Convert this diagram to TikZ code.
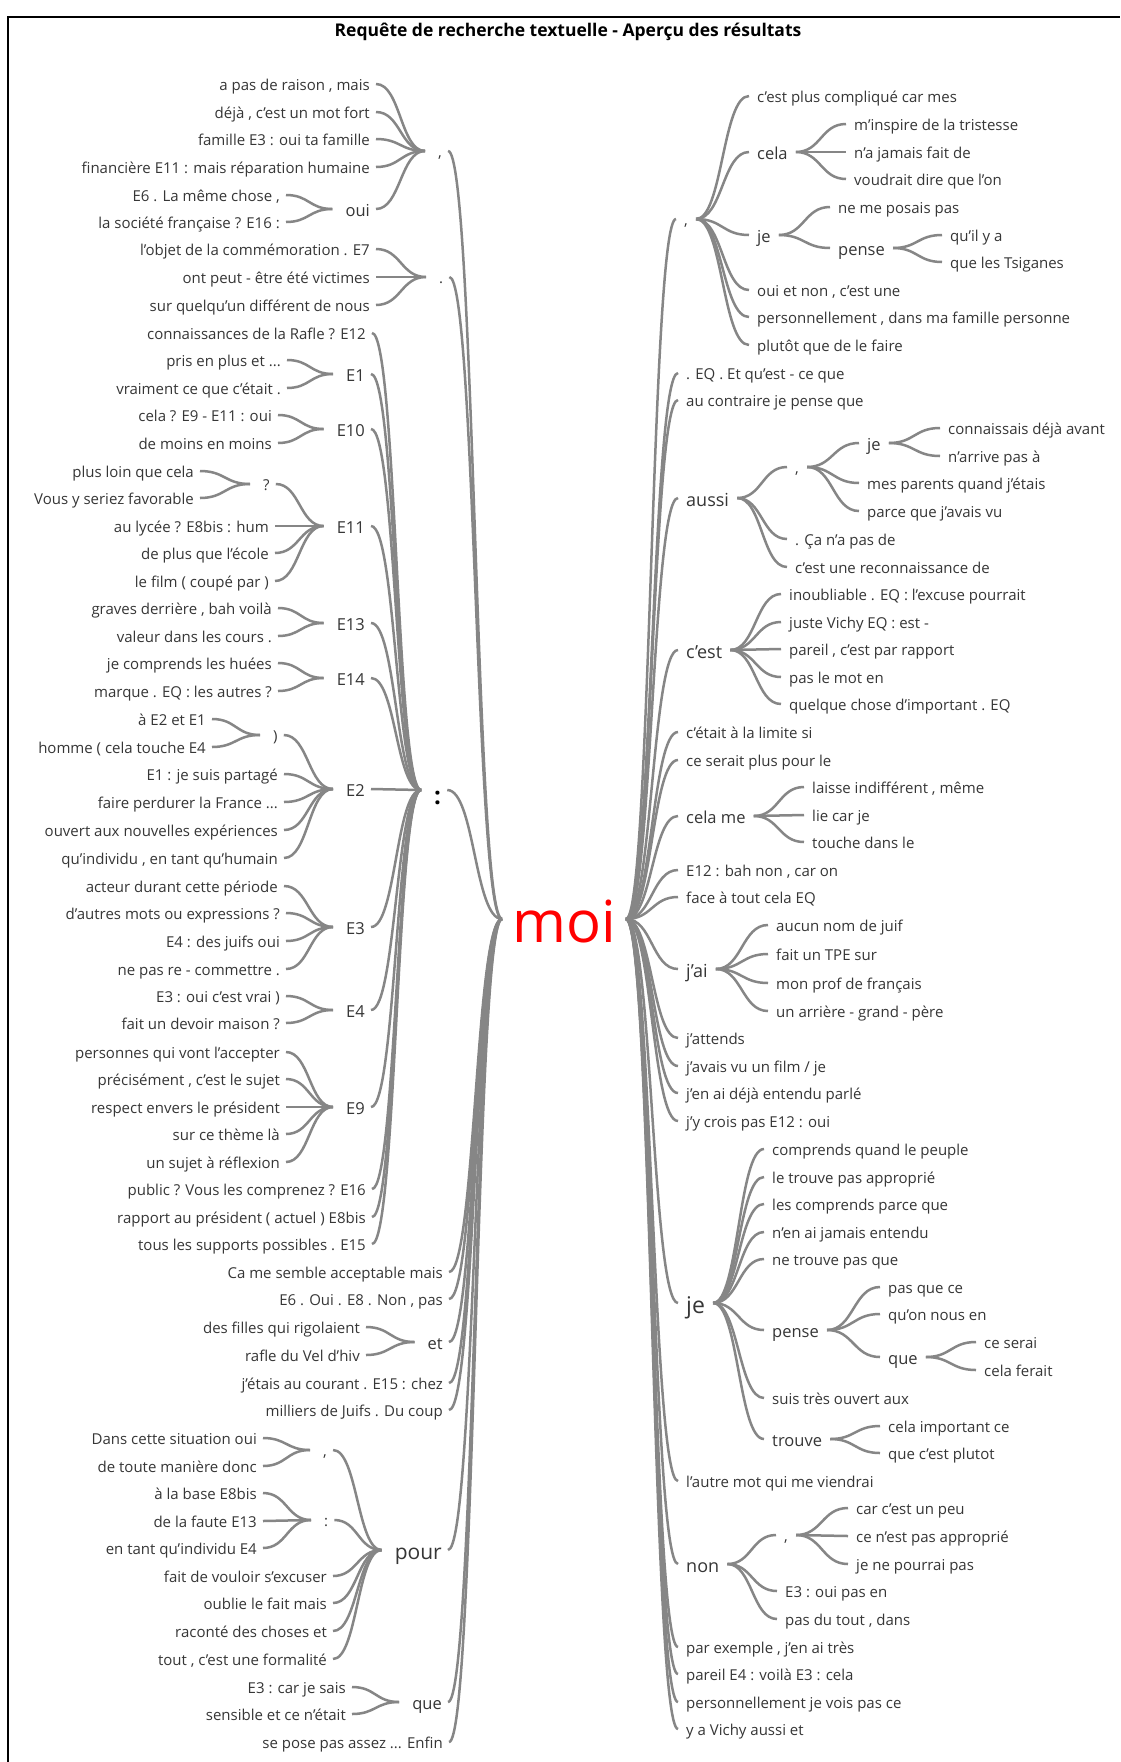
\documentclass[tikz,border=0pt]{standalone}
\usepackage{fontspec}
\setmainfont{Open Sans}
\usetikzlibrary{calc}
\definecolor{txtgray}{HTML}{363636}
\definecolor{linegray}{HTML}{868686}
\newcommand{\wtL}[2]{\draw[conn] ([xshift=6pt]#1.east) to[wt] ([xshift=-13pt]#2.west);}
\newcommand{\wtR}[2]{\draw[conn] ([xshift=8pt]#1.east) to[wt] ([xshift=-8pt]#2.west);}
\begin{document}
\begin{tikzpicture}[x=1pt,y=-1pt,
 tx/.style={inner sep=0pt, text=txtgray, font=\fontsize{15}{18}\selectfont, text height=13.5pt, text depth=0pt},
 md/.style={tx, font=\fontsize{16.5}{20}\selectfont, text height=15pt},
 bg/.style={tx, font=\fontsize{18}{22}\selectfont, text height=16pt},
 hg/.style={tx, font=\fontsize{21}{25}\selectfont, text height=19pt},
 hj/.style={tx, font=\fontsize{23}{28}\selectfont, text height=21pt},
 L/.style={anchor=east}, R/.style={anchor=west},
 conn/.style={draw=linegray, line width=2.5pt},
 wt/.style={to path={let \p1=(\tikztostart), \p2=(\tikztotarget) in .. controls ({(\x1+\x2)/2},\y1) and ({(\x1+\x2)/2},\y2) .. (\tikztotarget)}}
]
\useasboundingbox[fill=white] (0,0) rectangle (1120,1762);
\draw[line width=2pt] (8,1762) -- (8,17) -- (1120,17);
\node[font=\fontsize{17.5}{20}\selectfont\bfseries, text=black, inner sep=0pt] (title) at (568,32) {Requête de recherche textuelle - Aperçu des résultats};

\node[anchor=base, inner xsep=2pt, inner ysep=0pt, text height=46pt, text depth=0pt, font=\fontsize{58}{62}\selectfont, text=red] (moi) at (564,942) {moi};

% ---------------- left side ----------------
\node[tx,R] (Lc) at (438,151) {,};
\node[tx,R] (Ld) at (439,277) {.};
\node[R, inner sep=0pt, font=\fontsize{24}{28}\selectfont\bfseries, text height=28pt, text depth=0pt, text=black] (Lk) at (434,790) {:};
\node[tx,L] (Lca) at (443,1272) {Ca me semble acceptable mais};
\node[tx,L] (Le6) at (443,1299) {E6 . Oui . E8 . Non , pas};
\node[md,L] (Let) at (443,1342) {et};
\node[tx,L] (Ljc) at (443,1383) {j'étais au courant . E15 : chez};
\node[tx,L] (Lmi) at (443,1410) {milliers de Juifs . Du coup};
\node[hg,L] (Lpo) at (442,1550) {pour};
\node[md,L] (Lqu) at (442,1702) {que};
\node[tx,L] (Lse) at (443,1742) {se pose pas assez ... Enfin};

\node[tx,L] (L1) at (370,84) {a pas de raison , mais};
\node[tx,L] (L2) at (370,112) {déjà , c'est un mot fort};
\node[tx,L] (L3) at (370,139) {famille E3 : oui ta famille};
\node[tx,L] (L4) at (370,167) {financière E11 : mais réparation humaine};
\node[md,L] (Loui) at (370,209) {oui};
\node[tx,L] (L5) at (280,195) {E6 . La même chose ,};
\node[tx,L] (L6) at (280,222) {la société française ? E16 :};

\node[tx,L] (L7) at (370,249) {l'objet de la commémoration . E7};
\node[tx,L] (L8) at (370,277) {ont peut - être été victimes};
\node[tx,L] (L9) at (370,305) {sur quelqu'un différent de nous};

\node[tx,L] (L10) at (366,333) {connaissances de la Rafle ? E12};
\node[md,L] (LE1) at (365,374) {E1};
\node[tx,L] (L11) at (281,360) {pris en plus et ...};
\node[tx,L] (L12) at (281,388) {vraiment ce que c'était .};
\node[md,L] (LE10) at (365,429) {E10};
\node[tx,L] (L13) at (272,415) {cela ? E9 - E11 : oui};
\node[tx,L] (L14) at (272,443) {de moins en moins};
\node[md,L] (LE11) at (365,526) {E11};
\node[tx,R] (Lq) at (263,484) {?};
\node[tx,L] (L15) at (194,471) {plus loin que cela};
\node[tx,L] (L16) at (194,498) {Vous y seriez favorable};
\node[tx,L] (L17) at (269,526) {au lycée ? E8bis : hum};
\node[tx,L] (L18) at (269,553) {de plus que l'école};
\node[tx,L] (L19) at (269,581) {le film ( coupé par )};
\node[md,L] (LE13) at (365,623) {E13};
\node[tx,L] (L20) at (272,608) {graves derrière , bah voilà};
\node[tx,L] (L21) at (272,636) {valeur dans les cours .};
\node[md,L] (LE14) at (365,678) {E14};
\node[tx,L] (L22) at (272,663) {je comprends les huées};
\node[tx,L] (L23) at (272,691) {marque . EQ : les autres ?};
\node[md,L] (LE2) at (365,789) {E2};
\node[tx,R] (Lp) at (273,735) {)};
\node[tx,L] (L24) at (206,719) {à E2 et E1};
\node[tx,L] (L25) at (206,747) {homme ( cela touche E4};
\node[tx,L] (L26) at (278,774) {E1 : je suis partagé};
\node[tx,L] (L27) at (278,802) {faire perdurer la France ...};
\node[tx,L] (L28) at (278,830) {ouvert aux nouvelles expériences};
\node[tx,L] (L29) at (278,858) {qu'individu , en tant qu'humain};
\node[md,L] (LE3) at (365,927) {E3};
\node[tx,L] (L30) at (278,886) {acteur durant cette période};
\node[tx,L] (L31) at (280,913) {d'autres mots ou expressions ?};
\node[tx,L] (L32) at (280,941) {E4 : des juifs oui};
\node[tx,L] (L33) at (280,969) {ne pas re - commettre .};
\node[md,L] (LE4) at (365,1010) {E4};
\node[tx,L] (L34) at (280,996) {E3 : oui c'est vrai )};
\node[tx,L] (L35) at (280,1023) {fait un devoir maison ?};
\node[md,L] (LE9) at (365,1107) {E9};
\node[tx,L] (L36) at (280,1052) {personnes qui vont l'accepter};
\node[tx,L] (L37) at (280,1079) {précisément , c'est le sujet};
\node[tx,L] (L38) at (280,1107) {respect envers le président};
\node[tx,L] (L39) at (280,1134) {sur ce thème là};
\node[tx,L] (L40) at (280,1162) {un sujet à réflexion};
\node[tx,L] (L41) at (366,1189) {public ? Vous les comprenez ? E16};
\node[tx,L] (L42) at (366,1217) {rapport au président ( actuel ) E8bis};
\node[tx,L] (L43) at (366,1244) {tous les supports possibles . E15};

\node[tx,L] (L44) at (360,1327) {des filles qui rigolaient};
\node[tx,L] (L45) at (360,1355) {rafle du Vel d'hiv};

\node[tx,R] (Lpc) at (323,1450) {,};
\node[tx,R] (Lpk) at (324,1520) {:};
\node[tx,L] (L46) at (257,1438) {Dans cette situation oui};
\node[tx,L] (L47) at (257,1466) {de toute manière donc};
\node[tx,L] (L48) at (257,1493) {à la base E8bis};
\node[tx,L] (L49) at (257,1521) {de la faute E13};
\node[tx,L] (L50) at (257,1548) {en tant qu'individu E4};
\node[tx,L] (L51) at (327,1576) {fait de vouloir s'excuser};
\node[tx,L] (L52) at (327,1603) {oublie le fait mais};
\node[tx,L] (L53) at (327,1631) {raconté des choses et};
\node[tx,L] (L54) at (327,1659) {tout , c'est une formalité};
\node[tx,L] (L55) at (346,1687) {E3 : car je sais};
\node[tx,L] (L56) at (346,1714) {sensible et ce n'était};

\foreach \c in {Lc,Ld,Lk,Lca,Le6,Let,Ljc,Lmi,Lpo,Lqu,Lse}
  {\draw[conn] ([xshift=6pt]\c.east) to[wt] ([xshift=-8pt]moi.west);}
\foreach \c in {L1,L2,L3,L4,Loui} {\wtL{\c}{Lc}}
\foreach \c in {L5,L6} {\wtL{\c}{Loui}}
\foreach \c in {L7,L8,L9} {\wtL{\c}{Ld}}
\foreach \c in {L10,LE1,LE10,LE11,LE13,LE14,LE2,LE3,LE4,LE9,L41,L42,L43} {\wtL{\c}{Lk}}
\foreach \c in {L11,L12} {\wtL{\c}{LE1}}
\foreach \c in {L13,L14} {\wtL{\c}{LE10}}
\foreach \c in {Lq,L17,L18,L19} {\wtL{\c}{LE11}}
\foreach \c in {L15,L16} {\wtL{\c}{Lq}}
\foreach \c in {L20,L21} {\wtL{\c}{LE13}}
\foreach \c in {L22,L23} {\wtL{\c}{LE14}}
\foreach \c in {Lp,L26,L27,L28,L29} {\wtL{\c}{LE2}}
\foreach \c in {L24,L25} {\wtL{\c}{Lp}}
\foreach \c in {L30,L31,L32,L33} {\wtL{\c}{LE3}}
\foreach \c in {L34,L35} {\wtL{\c}{LE4}}
\foreach \c in {L36,L37,L38,L39,L40} {\wtL{\c}{LE9}}
\foreach \c in {L44,L45} {\wtL{\c}{Let}}
\foreach \c in {Lpc,Lpk,L51,L52,L53,L54} {\wtL{\c}{Lpo}}
\foreach \c in {L46,L47} {\wtL{\c}{Lpc}}
\foreach \c in {L48,L49,L50} {\wtL{\c}{Lpk}}
\foreach \c in {L55,L56} {\wtL{\c}{Lqu}}

% ---------------- right side ----------------
\node[tx,R] (Rc) at (684,219) {,};
\node[tx,R] (R1) at (686,373) {. EQ . Et qu'est - ce que};
\node[tx,R] (R2) at (686,400) {au contraire je pense que};
\node[bg,R] (Rau) at (686,498) {aussi};
\node[bg,R] (Rce) at (686,650) {c'est};
\node[tx,R] (R3) at (686,732) {c'était à la limite si};
\node[tx,R] (R4) at (686,760) {ce serait plus pour le};
\node[md,R] (Rcm) at (686,816) {cela me};
\node[tx,R] (R5) at (686,870) {E12 : bah non , car on};
\node[tx,R] (R6) at (686,897) {face à tout cela EQ};
\node[bg,R] (Rja) at (686,969) {j'ai};
\node[tx,R] (R7) at (686,1038) {j'attends};
\node[tx,R] (R8) at (686,1066) {j'avais vu un film / je};
\node[tx,R] (R9) at (686,1093) {j'en ai déjà entendu parlé};
\node[tx,R] (R10) at (686,1121) {j'y crois pas E12 : oui};
\node[hj,R] (Rje) at (686,1303) {je};
\node[tx,R] (R11) at (686,1481) {l'autre mot qui me viendrai};
\node[bg,R] (Rno) at (686,1564) {non};
\node[tx,R] (R12) at (686,1647) {par exemple , j'en ai très};
\node[tx,R] (R13) at (686,1674) {pareil E4 : voilà E3 : cela};
\node[tx,R] (R14) at (686,1702) {personnellement je vois pas ce};
\node[tx,R] (R15) at (686,1729) {y a Vichy aussi et};

\node[tx,R] (R16) at (757,96) {c'est plus compliqué car mes};
\node[md,R] (Rcel) at (757,152) {cela};
\node[md,R] (Rje1) at (757,235) {je};
\node[tx,R] (R17) at (757,290) {oui et non , c'est une};
\node[tx,R] (R18) at (757,317) {personnellement , dans ma famille personne};
\node[tx,R] (R19) at (757,345) {plutôt que de le faire};
\node[tx,R] (R20) at (854,124) {m'inspire de la tristesse};
\node[tx,R] (R21) at (854,152) {n'a jamais fait de};
\node[tx,R] (R22) at (854,179) {voudrait dire que l'on};
\node[tx,R] (R23) at (838,207) {ne me posais pas};
\node[md,R] (Rpe1) at (838,248) {pense};
\node[tx,R] (R24) at (950,235) {qu'il y a};
\node[tx,R] (R25) at (950,262) {que les Tsiganes};

\node[tx,R] (Rac) at (795,467) {,};
\node[tx,R] (R26) at (795,539) {. Ça n'a pas de};
\node[tx,R] (R27) at (795,567) {c'est une reconnaissance de};
\node[md,R] (Rje2) at (867,443) {je};
\node[tx,R] (R28) at (867,483) {mes parents quand j'étais};
\node[tx,R] (R29) at (867,511) {parce que j'avais vu};
\node[tx,R] (R30) at (948,428) {connaissais déjà avant};
\node[tx,R] (R31) at (948,456) {n'arrive pas à};

\node[tx,R] (R32) at (789,594) {inoubliable . EQ : l'excuse pourrait};
\node[tx,R] (R33) at (789,622) {juste Vichy EQ : est -};
\node[tx,R] (R34) at (789,649) {pareil , c'est par rapport};
\node[tx,R] (R35) at (789,677) {pas le mot en};
\node[tx,R] (R36) at (789,704) {quelque chose d'important . EQ};

\node[tx,R] (R37) at (812,787) {laisse indifférent , même};
\node[tx,R] (R38) at (812,815) {lie car je};
\node[tx,R] (R39) at (812,842) {touche dans le};

\node[tx,R] (R40) at (776,925) {aucun nom de juif};
\node[tx,R] (R41) at (776,954) {fait un TPE sur};
\node[tx,R] (R42) at (776,983) {mon prof de français};
\node[tx,R] (R43) at (776,1011) {un arrière - grand - père};

\node[tx,R] (R44) at (772,1149) {comprends quand le peuple};
\node[tx,R] (R45) at (772,1177) {le trouve pas approprié};
\node[tx,R] (R46) at (772,1204) {les comprends parce que};
\node[tx,R] (R47) at (772,1232) {n'en ai jamais entendu};
\node[tx,R] (R48) at (772,1259) {ne trouve pas que};
\node[md,R] (Rpe2) at (772,1330) {pense};
\node[tx,R] (R49) at (772,1398) {suis très ouvert aux};
\node[md,R] (Rtr) at (772,1439) {trouve};
\node[tx,R] (R50) at (888,1287) {pas que ce};
\node[tx,R] (R51) at (888,1314) {qu'on nous en};
\node[md,R] (Rqu) at (888,1357) {que};
\node[tx,R] (R52) at (984,1342) {ce serai};
\node[tx,R] (R53) at (984,1370) {cela ferait};
\node[tx,R] (R54) at (888,1426) {cela important ce};
\node[tx,R] (R55) at (888,1453) {que c'est plutot};

\node[tx,R] (Rnc) at (784,1535) {,};
\node[tx,R] (R56) at (785,1591) {E3 : oui pas en};
\node[tx,R] (R57) at (785,1619) {pas du tout , dans};
\node[tx,R] (R58) at (856,1508) {car c'est un peu};
\node[tx,R] (R59) at (856,1536) {ce n'est pas approprié};
\node[tx,R] (R60) at (856,1564) {je ne pourrai pas};

\foreach \c in {Rc,R1,R2,Rau,Rce,R3,R4,Rcm,R5,R6,Rja,R7,R8,R9,R10,Rje,R11,Rno,R12,R13,R14,R15}
  {\draw[conn] ([xshift=8pt]moi.east) to[wt] ([xshift=-8pt]\c.west);}
\foreach \c in {R16,Rcel,Rje1,R17,R18,R19} {\wtR{Rc}{\c}}
\foreach \c in {R20,R21,R22} {\wtR{Rcel}{\c}}
\foreach \c in {R23,Rpe1} {\wtR{Rje1}{\c}}
\foreach \c in {R24,R25} {\wtR{Rpe1}{\c}}
\foreach \c in {Rac,R26,R27} {\wtR{Rau}{\c}}
\foreach \c in {Rje2,R28,R29} {\wtR{Rac}{\c}}
\foreach \c in {R30,R31} {\wtR{Rje2}{\c}}
\foreach \c in {R32,R33,R34,R35,R36} {\wtR{Rce}{\c}}
\foreach \c in {R37,R38,R39} {\wtR{Rcm}{\c}}
\foreach \c in {R40,R41,R42,R43} {\wtR{Rja}{\c}}
\foreach \c in {R44,R45,R46,R47,R48,Rpe2,R49,Rtr} {\wtR{Rje}{\c}}
\foreach \c in {R50,R51,Rqu} {\wtR{Rpe2}{\c}}
\foreach \c in {R52,R53} {\wtR{Rqu}{\c}}
\foreach \c in {R54,R55} {\wtR{Rtr}{\c}}
\foreach \c in {Rnc,R56,R57} {\wtR{Rno}{\c}}
\foreach \c in {R58,R59,R60} {\wtR{Rnc}{\c}}
\end{tikzpicture}
\end{document}
